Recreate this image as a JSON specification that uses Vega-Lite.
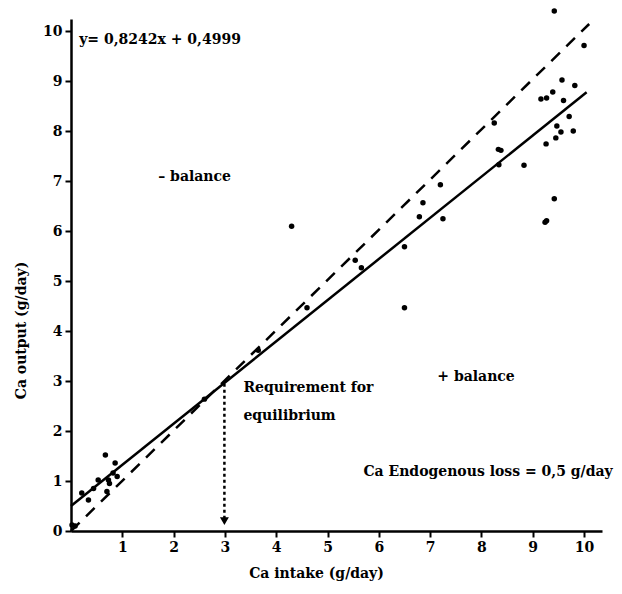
{
  "$schema": "https://vega.github.io/schema/vega-lite/v6.json",
  "width": 531,
  "height": 512,
  "autosize": {"type": "none"},
  "padding": {"left": 71, "top": 19, "right": 20, "bottom": 63},
  "background": "white",
  "config": {
    "view": {"stroke": null},
    "font": "DejaVu Serif",
    "axis": {
      "grid": false,
      "domainColor": "black",
      "domainWidth": 2.5,
      "tickColor": "black",
      "tickWidth": 2,
      "tickSize": 6,
      "labelFont": "DejaVu Serif",
      "labelFontWeight": "bold",
      "labelFontSize": 14,
      "labelColor": "black",
      "titleFont": "DejaVu Serif",
      "titleFontWeight": "bold",
      "titleFontSize": 14,
      "titleColor": "black"
    }
  },
  "datasets": {
    "pts": [
      {"x": 9.42, "y": 10.41}, {"x": 10.0, "y": 9.72}, {"x": 9.57, "y": 9.03}, {"x": 9.82, "y": 8.92},
      {"x": 9.39, "y": 8.79}, {"x": 9.27, "y": 8.67}, {"x": 9.16, "y": 8.65}, {"x": 9.6, "y": 8.62},
      {"x": 9.71, "y": 8.3}, {"x": 9.47, "y": 8.11}, {"x": 9.55, "y": 7.99}, {"x": 9.79, "y": 8.01},
      {"x": 9.45, "y": 7.87}, {"x": 9.26, "y": 7.75}, {"x": 8.25, "y": 8.17}, {"x": 8.33, "y": 7.64},
      {"x": 8.38, "y": 7.62}, {"x": 8.34, "y": 7.33}, {"x": 8.83, "y": 7.32}, {"x": 9.42, "y": 6.65},
      {"x": 9.27, "y": 6.21}, {"x": 9.24, "y": 6.18}, {"x": 7.2, "y": 6.93}, {"x": 7.25, "y": 6.25},
      {"x": 6.86, "y": 6.57}, {"x": 6.79, "y": 6.29}, {"x": 6.5, "y": 5.69}, {"x": 6.5, "y": 4.47},
      {"x": 5.54, "y": 5.42}, {"x": 5.66, "y": 5.27}, {"x": 4.6, "y": 4.47}, {"x": 4.3, "y": 6.1},
      {"x": 3.65, "y": 3.62}, {"x": 2.6, "y": 2.64},
      {"x": 0.67, "y": 1.52}, {"x": 0.86, "y": 1.36}, {"x": 0.82, "y": 1.16}, {"x": 0.9, "y": 1.09},
      {"x": 0.53, "y": 1.02}, {"x": 0.73, "y": 1.02}, {"x": 0.75, "y": 0.95}, {"x": 0.44, "y": 0.85},
      {"x": 0.7, "y": 0.79}, {"x": 0.21, "y": 0.76}, {"x": 0.34, "y": 0.62}, {"x": 0.02, "y": 0.12},
      {"x": 0.08, "y": 0.1}
    ],
    "reg": [{"x": 0, "y": 0.4999}, {"x": 10.05, "y": 8.783}],
    "ident": [{"x": 0, "y": 0}, {"x": 10.1, "y": 10.15}],
    "arrow": [{"x": 2.99, "y": 2.95}, {"x": 2.99, "y": 0.25}],
    "head": [{"x": 2.99, "y": 0.2}],
    "labels": [
      {"x": 0.16, "y": 9.82, "t": "y= 0,8242x + 0,4999"},
      {"x": 1.7, "y": 7.08, "t": "– balance"},
      {"x": 3.36, "y": 2.86, "t": "Requirement for"},
      {"x": 3.36, "y": 2.3, "t": "equilibrium"},
      {"x": 7.14, "y": 3.08, "t": "+ balance"},
      {"x": 5.7, "y": 1.18, "t": "Ca Endogenous loss = 0,5 g/day"}
    ]
  },
  "layer": [
    {
      "data": {"name": "ident"},
      "mark": {"type": "line", "color": "black", "strokeWidth": 2.5, "strokeDash": [12, 9]},
      "encoding": {
        "x": {"field": "x", "type": "quantitative", "scale": {"domain": [0, 10.35], "nice": false},
              "axis": {"values": [1,2,3,4,5,6,7,8,9,10], "title": "Ca intake (g/day)", "titlePadding": 12, "labelPadding": 3, "titleX": 245}},
        "y": {"field": "y", "type": "quantitative", "scale": {"domain": [0, 10.25], "nice": false},
              "axis": {"values": [0,1,2,3,4,5,6,7,8,9,10], "title": "Ca output (g/day)", "titlePadding": 14, "labelPadding": 3, "titleY": 311}}
      }
    },
    {
      "data": {"name": "reg"},
      "mark": {"type": "line", "color": "black", "strokeWidth": 2.5},
      "encoding": {
        "x": {"field": "x", "type": "quantitative"},
        "y": {"field": "y", "type": "quantitative"}
      }
    },
    {
      "data": {"name": "arrow"},
      "mark": {"type": "line", "color": "black", "strokeWidth": 2.5, "strokeDash": [3, 3]},
      "encoding": {
        "x": {"field": "x", "type": "quantitative"},
        "y": {"field": "y", "type": "quantitative"}
      }
    },
    {
      "data": {"name": "head"},
      "mark": {"type": "point", "shape": "triangle-down", "filled": true, "color": "black", "size": 80, "opacity": 1},
      "encoding": {
        "x": {"field": "x", "type": "quantitative"},
        "y": {"field": "y", "type": "quantitative"}
      }
    },
    {
      "data": {"name": "pts"},
      "mark": {"type": "circle", "color": "black", "size": 30, "opacity": 1},
      "encoding": {
        "x": {"field": "x", "type": "quantitative"},
        "y": {"field": "y", "type": "quantitative"}
      }
    },
    {
      "data": {"name": "labels"},
      "mark": {"type": "text", "align": "left", "baseline": "middle", "font": "DejaVu Serif", "fontWeight": "bold", "fontSize": 14, "color": "black"},
      "encoding": {
        "x": {"field": "x", "type": "quantitative"},
        "y": {"field": "y", "type": "quantitative"},
        "text": {"field": "t"}
      }
    }
  ]
}
